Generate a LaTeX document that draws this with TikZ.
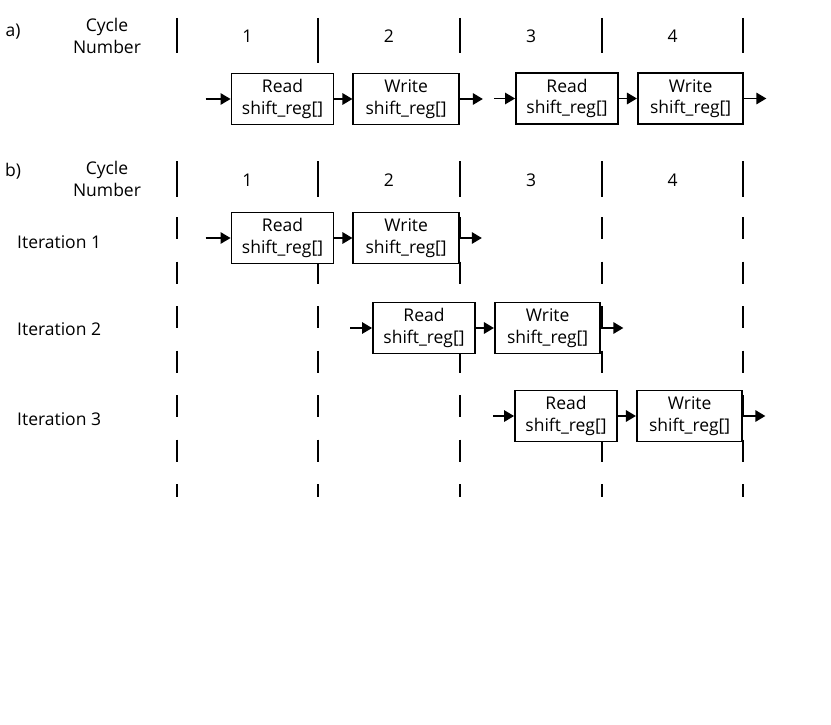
\documentclass[tikz,border=0pt]{standalone}
\usepackage{fontspec}
\setmainfont{Open Sans}
\usepackage{tikz}
\usetikzlibrary{
	arrows.meta,									% 箭头样式
	positioning,									% 节点的相对摆放
}
\tikzset{
	lbl/.style={font=\fontsize{17.5}{21.5}\selectfont, inner sep=0pt},
	stage/.style={lbl, draw, line width=1.9pt, fill=white, align=center, minimum height=51pt},
	rd/.style={stage, minimum width=102pt},
	wr/.style={stage, minimum width=105.5pt},
	flow/.style={line width=1.6pt, -{Triangle[length=10pt, width=11.5pt]}},
	bar/.style={line width=1.9pt},
	dbar/.style={bar, dash pattern=on 22pt off 22.5pt},
}

\begin{document}
\begin{tikzpicture}[x=1pt, y=-1pt]
	\useasboundingbox (0,0) rectangle (831,725);
	% 周期分隔线
	\foreach \x/\e in {177/53, 318/63, 460/53, 602/53, 743/53}{
		\draw[bar] (\x,18) -- (\x,\e);                        %a) 表头
		\draw[bar] (\x,161) -- (\x,197);                      %b) 表头
		\draw[dbar] (\x,217) -- (\x,497);                     %b) 迭代部分为虚线
	}
	% a) 无流水线
	\node[lbl, anchor=base] (pa) at (13,37) {a)};
	\node[lbl, align=center] (cyca) at (107,36) {Cycle\\Number};
	\foreach \n/\x in {1/247.5, 2/389, 3/531, 4/672.5}
		\node[lbl, anchor=base] (ca\n) at (\x,43) {\n};
	\node[rd] (ard1) at (282.5,99) {Read\\shift\_reg[]};
	\node[wr, right=18pt of ard1] (awr2) {Write\\shift\_reg[]};
	\node[rd] (ard3) at (567,98.5) {Read\\shift\_reg[]};
	\node[wr, right=18pt of ard3] (awr4) {Write\\shift\_reg[]};
	\coordinate[left=25pt of ard1.west] (ain1);
	\coordinate[right=23pt of awr2.east] (aout2);
	\coordinate[left=21pt of ard3.west] (ain3);
	\coordinate[right=22pt of awr4.east] (aout4);
	\draw[flow] (ain1) -- (ard1);
	\draw[flow] (ard1) -- (awr2);
	\draw[flow] (awr2) -- (aout2);
	\draw[flow] (ain3) -- (ard3);
	\draw[flow] (ard3) -- (awr4);
	\draw[flow] (awr4) -- (aout4);
	% b) 流水线
	\node[lbl, anchor=base] (pb) at (13,176) {b)};
	\node[lbl, align=center] (cycb) at (107,179) {Cycle\\Number};
	\foreach \n/\x in {1/247.5, 2/389, 3/531, 4/672.5}
		\node[lbl, anchor=base] (cb\n) at (\x,186) {\n};
	\foreach \i/\x/\y/\t/\l in {1/282.5/238/248/25, 2/424/328/335/22, 3/566/416/425/21}{
		\node[lbl, anchor=base west] (it\i) at (17,\t) {Iteration \i};
		\node[rd] (brd\i) at (\x,\y) {Read\\shift\_reg[]};
		\node[wr, right=18pt of brd\i] (bwr\i) {Write\\shift\_reg[]};
		\coordinate[left=\l pt of brd\i.west] (bin\i);
		\coordinate[right=22pt of bwr\i.east] (bout\i);
		\draw[flow] (bin\i) -- (brd\i);
		\draw[flow] (brd\i) -- (bwr\i);
		\draw[flow] (bwr\i) -- (bout\i);
	}
\end{tikzpicture}
\end{document}
